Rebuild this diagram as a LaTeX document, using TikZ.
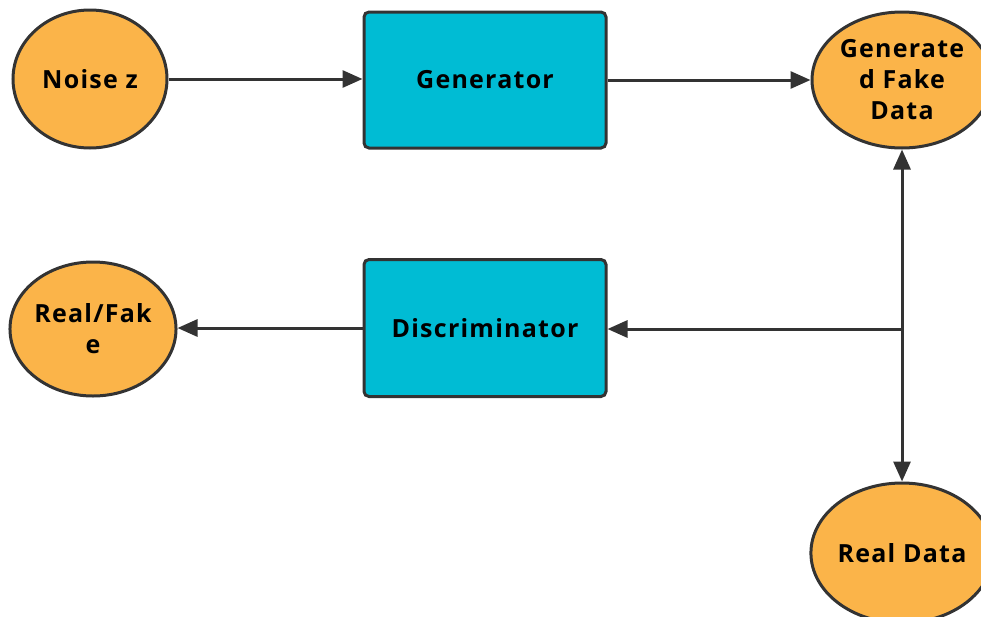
\documentclass[tikz,border=0pt]{standalone}
\usepackage{fontspec}
\setmainfont{Open Sans}[LetterSpace=5]
\usetikzlibrary{arrows.meta,shapes.geometric}
\definecolor{orangefill}{HTML}{FBB449}
\definecolor{cyanfill}{HTML}{00BCD4}
\definecolor{edgegray}{HTML}{333333}
\tikzset{
  oval/.style={ellipse, draw=edgegray, line width=3pt, fill=orangefill, inner sep=0pt,
    font=\bfseries\fontsize{25}{31}\selectfont, align=center},
  block/.style={rectangle, rounded corners=5pt, draw=edgegray, line width=3pt, fill=cyanfill,
    inner sep=0pt, font=\bfseries\fontsize{25}{31}\selectfont, align=center},
  conn/.style={draw=edgegray, line width=3pt, -{Triangle[length=20pt,width=17pt]}}
}
\begin{document}
\begin{tikzpicture}[x=1pt,y=-1pt]
\useasboundingbox (0,0) rectangle (981,616);
\clip (0,0) rectangle (981,616);
\node[oval, minimum width=154pt, minimum height=138pt] (noise) at (90,79) {Noise z};
\node[block, minimum width=242pt, minimum height=136pt] (gen) at (485,80) {Generator};
\node[oval, minimum width=180pt, minimum height=136pt] (fake) at (902,80) {Generate\\d Fake\\Data};
\node[oval, minimum width=166pt, minimum height=134pt] (rf) at (93,329) {Real/Fak\\e};
\node[block, minimum width=242pt, minimum height=137pt] (disc) at (485,328) {Discriminator};
\node[oval, minimum width=180pt, minimum height=140pt] (real) at (902,553) {Real Data};
\coordinate (junc) at (902,329);
\draw[conn] (noise.east) -- (noise.east -| gen.west);
\draw[conn] (gen.east) -- (gen.east -| fake.west);
\draw[conn] (junc) -- (fake.south);
\draw[conn] (junc) -- (real.north);
\draw[conn] (junc) -- (junc -| disc.east);
\draw[conn] (disc.west) -- (disc.west -| rf.east);
\end{tikzpicture}
\end{document}
